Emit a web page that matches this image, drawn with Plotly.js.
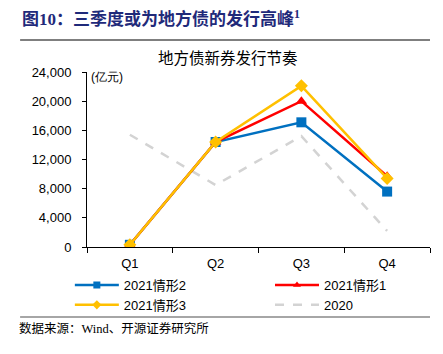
<!DOCTYPE html>
<html><head><meta charset="utf-8">
<script src="https://cdn.plot.ly/plotly-3.0.1.min.js"></script>
<style>html,body{margin:0;padding:0;background:#fff}#chart{width:443px;height:354px}</style>
</head><body><div id="chart"></div>
<script>
const quarters = ['Q1','Q2','Q3','Q4'];
const s2020 = [15400, 8500, 15200, 2200];
const scen2 = [300, 14400, 17100, 7600];
const scen1 = [300, 14400, 20000, 9700];
const scen3 = [300, 14400, 22100, 9400];
const yTicks = [0, 4000, 8000, 12000, 16000, 20000, 24000];

const series = [
  {name: '2020', y: s2020, color: '#D3D3D3', dash: 'dash', symbol: null, legend: 'legend2', rank: 2},
  {name: '2021情形2', y: scen2, color: '#0070C0', dash: 'solid', symbol: 'square', legend: 'legend', rank: 1},
  {name: '2021情形1', y: scen1, color: '#FF0000', dash: 'solid', symbol: 'triangle-up', legend: 'legend2', rank: 1},
  {name: '2021情形3', y: scen3, color: '#FFC000', dash: 'solid', symbol: 'diamond', legend: 'legend', rank: 2}
];

function mk(s, xs, ys, msize) {
  const t = {x: xs, y: ys, name: s.name,
    mode: s.symbol ? 'lines+markers' : 'lines',
    line: {color: s.color, width: 2.5, dash: s.dash}};
  if (s.symbol) t.marker = {symbol: s.symbol, size: msize, color: s.color};
  return t;
}

const traces = [];
series.forEach(s => {
  const t = mk(s, quarters, s.y, 10);
  t.showlegend = false;
  traces.push(t);
});
// legend entries with smaller sample markers
series.forEach(s => {
  const t = mk(s, [null], [null], 7);
  t.legend = s.legend;
  t.legendrank = s.rank;
  traces.push(t);
});

const plotH = 354 - 72 - 107;
const legY = -(270 - 247) / plotH;
const legCommon = {orientation: 'v', yanchor: 'top', xanchor: 'left', itemwidth: 44, tracegroupgap: 0,
  bgcolor: 'rgba(0,0,0,0)', font: {size: 13, family: 'Liberation Sans, Noto Sans CJK SC, sans-serif'}};
const layout = {
  width: 443, height: 354,
  margin: {l: 87, r: 13, t: 72, b: 107, autoexpand: false},
  paper_bgcolor: '#fff', plot_bgcolor: '#fff',
  font: {family: 'Liberation Sans, Arial, sans-serif', size: 13, color: '#000'},
  showlegend: true,
  legend: Object.assign({}, legCommon, {x: -0.05, y: legY}),
  legend2: Object.assign({}, legCommon, {x: (270 - 87) / 343, y: legY}),
  xaxis: {type: 'category', range: [-0.5, 3.5], showline: true, linecolor: '#000', linewidth: 1,
    ticks: 'outside', tickson: 'boundaries', ticklen: 5, tickcolor: '#000', showgrid: false, zeroline: false,
    ticklabelstandoff: 4, tickfont: {size: 13}},
  yaxis: {range: [0, 24000], tickvals: yTicks, tickformat: ',d', showline: true, linecolor: '#000', linewidth: 1,
    ticks: 'outside', ticklen: 4, tickcolor: '#000', showgrid: false, zeroline: false,
    ticklabelstandoff: 8, tickfont: {size: 13}},
  annotations: [
    {text: '<b>图10：三季度或为地方债的发行高峰<sup>1</sup></b>', xref: 'paper', yref: 'paper',
     x: -0.22, y: 1.0, xanchor: 'left', yanchor: 'middle', yshift: 54, xshift: 8, showarrow: false,
     font: {size: 17, color: '#1F2A7A', family: 'Liberation Serif, Noto Sans CJK SC, serif'}},
    {text: '地方债新券发行节奏', xref: 'paper', yref: 'paper', x: (228 - 87) / 343, y: 1.0, xanchor: 'center', yanchor: 'middle',
     yshift: 14, showarrow: false, font: {size: 15.5, color: '#000', family: 'Liberation Serif, Noto Sans CJK SC, serif'}},
    {text: '(亿元)', xref: 'paper', yref: 'paper', x: 0.0, y: 1.0, xanchor: 'left', yanchor: 'middle',
     yshift: -5, xshift: 2, showarrow: false, font: {size: 12, color: '#000'}},
    {text: '数据来源：Wind、开源证券研究所', xref: 'paper', yref: 'paper', x: -0.21, y: 0, xanchor: 'left', yanchor: 'middle',
     yshift: -81, xshift: 2, showarrow: false, font: {size: 12.5, color: '#000', family: 'Liberation Serif, Noto Sans CJK SC, serif'}}
  ],
  shapes: [
    {type: 'line', xref: 'paper', yref: 'paper', x0: -0.195, x1: 1.0, y0: (247 - 40) / plotH, y1: (247 - 40) / plotH,
     line: {color: '#555', width: 1.5}},
    {type: 'line', xref: 'paper', yref: 'paper', x0: -0.195, x1: 1.0, y0: (247 - 317) / plotH, y1: (247 - 317) / plotH,
     line: {color: '#888', width: 1.5}}
  ]
};

Plotly.newPlot('chart', traces, layout, {displayModeBar: false, staticPlot: true});
</script>
</body></html>
